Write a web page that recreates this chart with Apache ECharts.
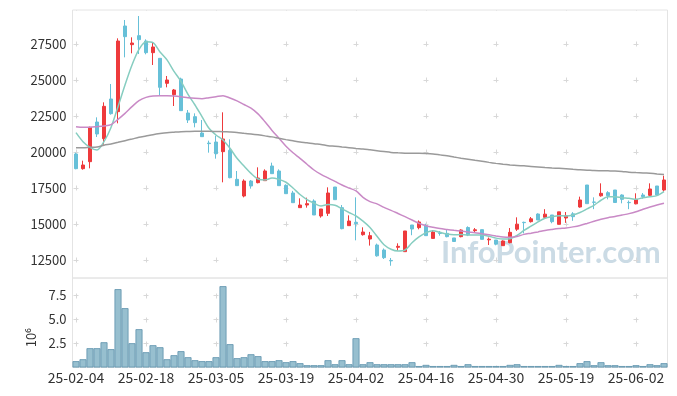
<!DOCTYPE html>
<html>
<head>
<meta charset="utf-8">
<script src="https://cdn.jsdelivr.net/npm/echarts@6/dist/echarts.min.js"></script>
<style>html,body{margin:0;padding:0;background:#fff}#c{width:677px;height:396px}</style>
</head>
<body>
<div id="c"></div>
<script>
const dates = ['25-02-04','25-02-05','25-02-06','25-02-07','25-02-10','25-02-11','25-02-12','25-02-13','25-02-14','25-02-17',
'25-02-18','25-02-19','25-02-20','25-02-21','25-02-24','25-02-25','25-02-26','25-02-27','25-02-28','25-03-04',
'25-03-05','25-03-06','25-03-07','25-03-10','25-03-11','25-03-12','25-03-13','25-03-14','25-03-17','25-03-18',
'25-03-19','25-03-20','25-03-21','25-03-24','25-03-25','25-03-26','25-03-27','25-03-28','25-03-31','25-04-01',
'25-04-02','25-04-03','25-04-04','25-04-07','25-04-08','25-04-09','25-04-10','25-04-11','25-04-14','25-04-15',
'25-04-16','25-04-17','25-04-18','25-04-21','25-04-22','25-04-23','25-04-24','25-04-25','25-04-28','25-04-29',
'25-04-30','25-05-02','25-05-07','25-05-08','25-05-09','25-05-12','25-05-13','25-05-14','25-05-15','25-05-16',
'25-05-19','25-05-20','25-05-21','25-05-22','25-05-23','25-05-26','25-05-27','25-05-28','25-05-29','25-05-30',
'25-06-02','25-06-04','25-06-05','25-06-09','25-06-10'];

const openP = [19861,18843,19329,22083,20926,23681,22801,28750,27454,28079,
27708,26898,26505,24769,23981,25069,22708,22454,21319,20620,
20694,20023,20116,18102,16944,17986,17870,18009,19028,18681,
17685,17153,16134,16319,16597,15556,15741,17569,16134,14884,
15116,14259,13958,13542,13194,12470,13380,13079,14931,14745,
14884,14000,14360,14352,14030,14120,14757,14537,14607,13900,
13889,13495,13704,14640,15116,15162,15694,15463,15625,14977,
15416,15706,16180,17708,16528,16956,17176,17361,17014,16500,
16400,17014,16990,17639,17361];

const closeP = [18843,19097,21713,21250,23171,22662,27708,28009,27569,27801,
26898,27292,24491,25000,24306,22870,22222,22037,21065,20580,
19884,20903,18218,17662,17986,17639,18194,18681,18495,17662,
17106,16481,16319,16412,15625,16042,17153,16690,14676,15208,
15023,14444,14190,12790,12662,12440,13450,14514,14653,15140,
14190,14440,14340,14120,13785,14583,14236,14600,13935,13946,
13600,13820,14421,14990,15093,15360,15278,15683,15162,15845,
15567,15509,16667,16412,16505,17130,16968,16493,16713,16481,
16713,16898,17431,17014,18056];

const lowP = [18800,18773,18866,21042,20509,22593,21991,26574,26852,26806,
26782,26042,23935,24491,23194,22870,22014,21713,21065,19954,
19537,17894,18171,17662,16852,17454,17824,18009,18495,17662,
17106,16481,16134,16134,15625,15440,15556,16690,14630,14884,
13866,14190,13500,12731,12569,12100,13150,13079,14220,14630,
14190,14000,14190,14074,13785,14074,14160,14410,13935,13542,
13520,13495,13657,14520,14350,15100,15278,15370,15050,14977,
15080,15220,16134,16412,16030,16898,16713,16493,16435,16030,
16366,16760,16944,17000,17245];

const highP = [19950,19398,21760,22407,23449,24722,27893,29167,27963,29444,
27824,27639,26505,25278,24375,25162,22917,22685,22222,20787,
21134,22755,20880,18681,18102,18056,18935,18796,19259,18796,
17755,17300,16782,16829,16713,16042,17546,17569,16319,15602,
16852,14769,14450,13640,13300,12640,13657,14514,14931,15250,
15020,14583,14514,14640,14030,14630,14838,14720,14607,14060,
13889,13866,14720,15463,15162,15486,15741,16030,15625,15845,
15833,15822,16898,17708,16852,17824,17280,17361,17060,16630,
17130,17150,17824,17639,18356];

const ma5 = [21343,20718,20324,20139,20718,21700,23148,24653,26042,27130,
27662,27593,26950,26400,25600,24900,24000,23264,22454,21644,
21181,20833,20255,19560,19028,18519,18125,18056,18200,18100,
17900,17500,17050,16700,16450,16250,16350,16300,16050,15800,
15556,15200,14760,14150,13560,13250,13125,13194,13700,14100,
14400,14537,14420,14300,14250,14270,14236,14236,14236,14150,
14020,13950,13980,14200,14550,14850,15150,15394,15509,15579,
15556,15625,15800,16050,16300,16650,16898,16898,16829,16782,
16713,16829,16898,16968,17245];

const ma20 = [21760,21720,21720,21760,21810,21900,22268,22685,23148,23565,
23796,23889,23900,23900,23890,23843,23773,23727,23704,23773,
23843,23912,23750,23550,23300,23050,22650,22100,21500,20950,
20400,19950,19560,19150,18750,18450,18200,17960,17708,17500,
17300,16850,16550,16400,16150,15950,15730,15509,15280,15040,
14880,14770,14680,14620,14560,14510,14450,14400,14320,14250,
14170,14100,14080,14130,14280,14360,14450,14550,14620,14680,
14720,14800,14900,15040,15190,15330,15440,15520,15620,15720,
15850,16020,16180,16320,16435];

const ma60 = [20301,20301,20324,20347,20470,20555,20670,20787,20900,21019,
21110,21204,21280,21343,21380,21412,21425,21435,21435,21435,
21420,21410,21390,21360,21300,21250,21190,21120,21050,20950,
20860,20780,20700,20640,20570,20520,20440,20400,20350,20300,
20250,20210,20150,20090,20030,19970,19940,19920,19910,19905,
19890,19860,19800,19740,19650,19570,19500,19430,19360,19280,
19210,19150,19100,19060,19040,19000,18960,18920,18890,18870,
18840,18800,18760,18740,18710,18700,18690,18680,18650,18600,
18570,18550,18520,18480,18440];

const volume = [0.66,0.86,2.01,2.01,2.63,1.91,8.16,6.18,2.53,3.99,
1.59,2.32,2.11,0.86,1.28,1.70,1.07,0.76,0.66,0.66,
1.07,8.47,2.43,0.97,1.07,1.38,1.18,0.66,0.66,0.76,
0.55,0.66,0.45,0.24,0.24,0.24,0.76,0.34,0.76,0.34,
3.05,0.34,0.55,0.34,0.34,0.34,0.34,0.34,0.55,0.15,
0.27,0.15,0.15,0.15,0.27,0.15,0.34,0.15,0.15,0.15,
0.15,0.15,0.27,0.34,0.15,0.15,0.15,0.15,0.15,0.27,
0.15,0.15,0.45,0.66,0.24,0.55,0.24,0.24,0.15,0.15,
0.24,0.15,0.34,0.24,0.45];

const priceTicks = [12500,15000,17500,20000,22500,25000,27500];
const volumeTicks = [2.5,5,7.5];
const crossIdx = [0,10,20,30,40,50,60,70,80];

const FONT = "'Noto Sans CJK KR','Noto Sans',sans-serif";
const BORDER = '#e4e4e4';
const CROSS = '#d8d8d8';
const UP = '#ee3a3c';
const DOWN = '#67c0d8';

const candleData = dates.map((d, i) => [openP[i], closeP[i], lowP[i], highP[i]]);

const chart = echarts.init(document.getElementById('c'), null, {renderer: 'canvas'});

const hLines = {show: true, lineStyle: {color: CROSS, width: 1, type: [5, 65], dashOffset: 69}};

chart.setOption({
  animation: false,
  backgroundColor: '#ffffff',
  grid: [
    {left: 72.5, width: 595, top: 10, height: 268, show: true, borderColor: BORDER, borderWidth: 1},
    {left: 72.5, width: 595, top: 278, height: 89.5, show: true, borderColor: BORDER, borderWidth: 1}
  ],
  xAxis: [
    {type: 'category', gridIndex: 0, data: dates, boundaryGap: true,
     axisLine: {show: false}, axisTick: {show: false}, axisLabel: {show: false}, splitLine: {show: false}},
    {type: 'category', gridIndex: 1, data: dates, boundaryGap: true,
     axisLine: {show: false}, axisTick: {show: false},
     axisLabel: {interval: 9, fontSize: 14, color: '#333', margin: 3, fontFamily: FONT},
     splitLine: {show: false}},
    {type: 'value', gridIndex: 0, min: -0.5, max: 84.5, splitNumber: 8, position: 'top',
     axisLine: {show: false}, axisTick: {show: false, customValues: crossIdx}, axisLabel: {show: false},
     splitLine: {show: true, lineStyle: {color: CROSS, width: 1, type: [5, 31], dashOffset: 4.5}}},
    {type: 'value', gridIndex: 1, min: -0.5, max: 84.5, splitNumber: 8, position: 'top',
     axisLine: {show: false}, axisTick: {show: false, customValues: crossIdx}, axisLabel: {show: false},
     splitLine: {show: true, lineStyle: {color: CROSS, width: 1, type: [5, 19], dashOffset: 8.5}}}
  ],
  yAxis: [
    {type: 'value', gridIndex: 0, min: 11250, max: 29861, scale: true,
     axisLine: {show: false}, axisTick: {show: false, customValues: priceTicks},
     axisLabel: {customValues: priceTicks, fontSize: 13, color: '#333', margin: 6, fontFamily: FONT,
                 formatter: v => String(v)},
     splitLine: hLines},
    {type: 'value', gridIndex: 1, min: 0, max: 9.32,
     name: '10\u2076', nameLocation: 'middle', nameGap: 33, nameRotate: 90,
     nameTextStyle: {fontSize: 13, color: '#333', fontFamily: FONT, padding: [0, 30, 0, 0]},
     axisLine: {show: false}, axisTick: {show: false, customValues: volumeTicks},
     axisLabel: {customValues: volumeTicks, fontSize: 13, color: '#333', margin: 6, fontFamily: FONT,
                 formatter: v => v.toFixed(1)},
     splitLine: hLines}
  ],
  graphic: [
    {type: 'text', left: 441, top: 237, z: 0, silent: true,
     style: {text: 'InfoPointer.com', font: 'bold 31px Lato', fill: '#cbdbe5'}}
  ],
  series: [
    {type: 'candlestick', name: 'price', xAxisIndex: 0, yAxisIndex: 0, data: candleData,
     barWidth: 3.6,
     itemStyle: {color: UP, color0: DOWN, borderColor: UP, borderColor0: DOWN, borderWidth: 1}},
    {type: 'line', name: 'MA5', xAxisIndex: 0, yAxisIndex: 0, data: ma5, smooth: 0.3,
     symbol: 'none', lineStyle: {color: '#86cdc0', width: 1.5}, z: 3},
    {type: 'line', name: 'MA20', xAxisIndex: 0, yAxisIndex: 0, data: ma20, smooth: 0.3,
     symbol: 'none', lineStyle: {color: '#c98ac6', width: 1.5}, z: 3},
    {type: 'line', name: 'MA60', xAxisIndex: 0, yAxisIndex: 0, data: ma60, smooth: 0.3,
     symbol: 'none', lineStyle: {color: '#9a9a9a', width: 1.5}, z: 3},
    {type: 'bar', name: 'volume', xAxisIndex: 1, yAxisIndex: 1, data: volume,
     barWidth: '100%', barCategoryGap: '0%',
     itemStyle: {color: '#97bfcf', borderColor: '#5d92ac', borderWidth: 0.8}}
  ]
});
</script>
</body>
</html>
